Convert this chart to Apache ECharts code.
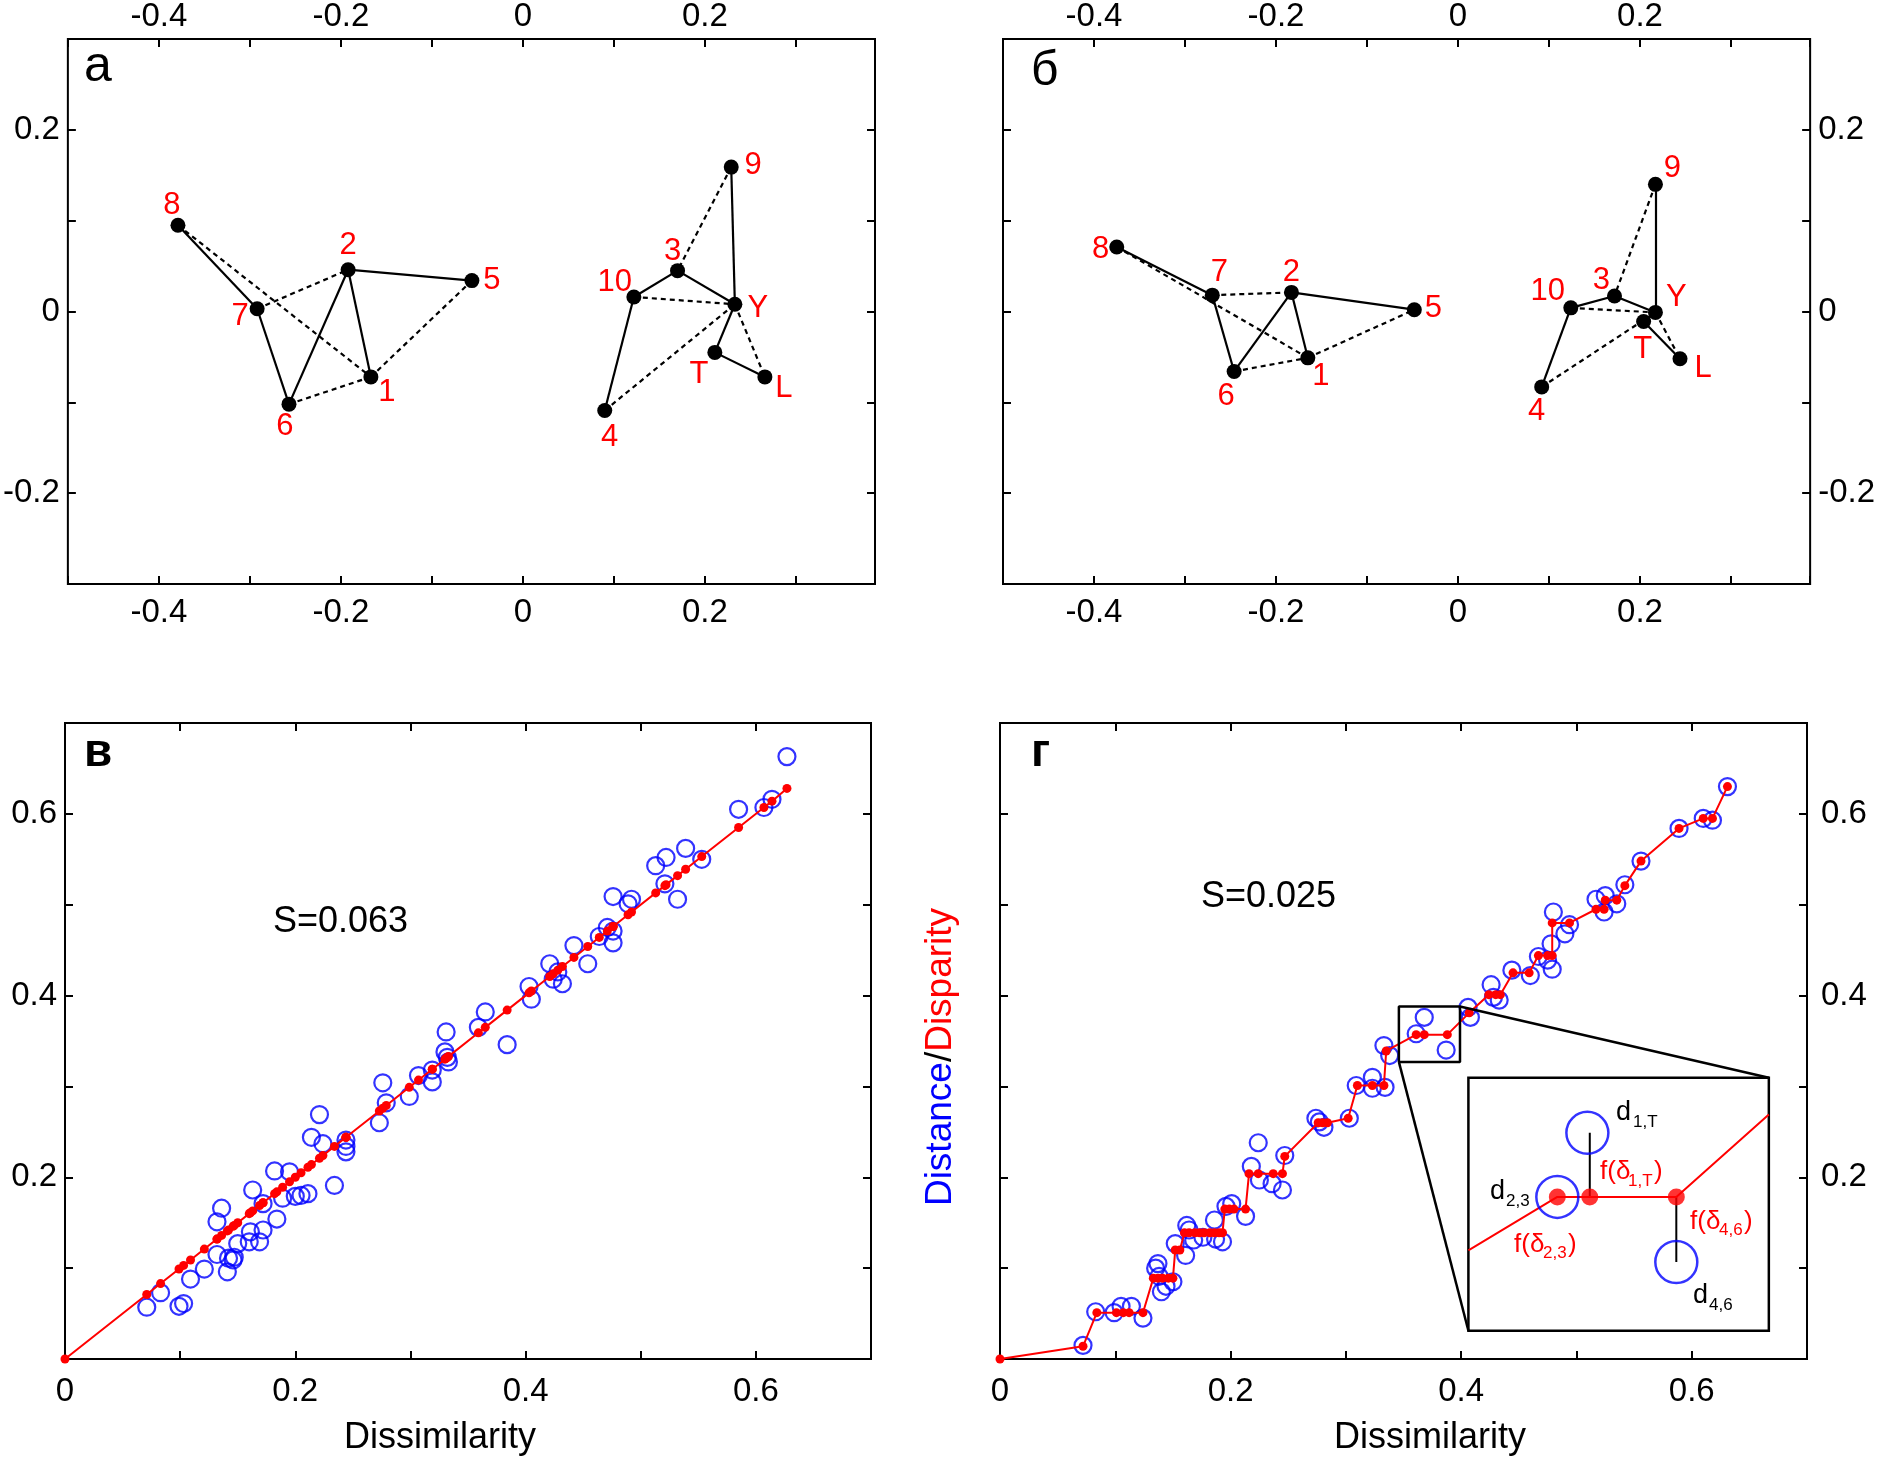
<!DOCTYPE html>
<html>
<head>
<meta charset="utf-8">
<script src="https://cdn.jsdelivr.net/npm/echarts@6/dist/echarts.min.js"></script>
<style>
  html, body { margin: 0; padding: 0; background: #fff; }
  #chart { width: 1878px; height: 1460px; }
</style>
</head>
<body>
<div id="chart"></div>
<script>
// ---------- data ----------
// MDS configurations (panels a and б), objects 1..10, Y, T, L
const nodeNames = ["1", "2", "3", "4", "5", "6", "7", "8", "9", "10", "Y", "T", "L"];
const xA = [-0.167, -0.192, 0.170, 0.090, -0.056, -0.257, -0.292, -0.379, 0.229, 0.122, 0.233, 0.211, 0.266];
const yA = [-0.072, 0.046, 0.045, -0.109, 0.034, -0.102, 0.003, 0.095, 0.159, 0.016, 0.008, -0.045, -0.072];
const xB = [-0.165, -0.183, 0.172, 0.092, -0.048, -0.246, -0.270, -0.375, 0.217, 0.124, 0.217, 0.204, 0.244];
const yB = [-0.051, 0.021, 0.017, -0.083, 0.002, -0.066, 0.018, 0.071, 0.140, 0.004, -0.001, -0.011, -0.052];
const solidEdges = [["8", "7"], ["7", "6"], ["6", "2"], ["2", "1"], ["2", "5"], ["4", "10"], ["10", "3"], ["3", "Y"], ["9", "Y"], ["Y", "T"], ["T", "L"]];
const dashedEdges = [["8", "1"], ["7", "2"], ["6", "1"], ["1", "5"], ["9", "3"], ["10", "Y"], ["4", "Y"], ["Y", "L"]];

// Shepard diagram в (linear regression)
const dissimV = [0.071, 0.083, 0.099, 0.103, 0.109, 0.121, 0.132, 0.132, 0.136, 0.141, 0.142, 0.146, 0.147, 0.150, 0.160, 0.161, 0.163, 0.169, 0.172, 0.172, 0.182, 0.184, 0.189, 0.195, 0.200, 0.205, 0.211, 0.214, 0.221, 0.224, 0.234, 0.244, 0.244, 0.244,
  0.273, 0.276, 0.279, 0.299, 0.307, 0.319, 0.319, 0.330, 0.331, 0.332, 0.333, 0.359, 0.365, 0.384, 0.403, 0.405, 0.421, 0.424, 0.428, 0.432, 0.442, 0.454,
  0.464, 0.471, 0.476, 0.476, 0.476, 0.489, 0.492, 0.513, 0.521, 0.522, 0.532, 0.539, 0.553, 0.585, 0.607, 0.614, 0.627];
const distV = [0.057, 0.073, 0.058, 0.061, 0.088, 0.099, 0.115, 0.151, 0.166, 0.096, 0.111, 0.109, 0.112, 0.127, 0.129, 0.140, 0.186, 0.129, 0.142, 0.171, 0.207, 0.154, 0.177, 0.206, 0.179, 0.180, 0.182, 0.244, 0.269, 0.237, 0.191, 0.241, 0.234, 0.228,
  0.260, 0.304, 0.282, 0.289, 0.312, 0.318, 0.305, 0.338, 0.360, 0.332, 0.327, 0.365, 0.382, 0.346, 0.410, 0.396, 0.435, 0.418, 0.426, 0.413, 0.455, 0.435,
  0.465, 0.475, 0.471, 0.458, 0.509, 0.501, 0.506, 0.543, 0.523, 0.552, 0.506, 0.562, 0.550, 0.605, 0.607, 0.616, 0.663];
const dispV = [0.071, 0.083, 0.099, 0.103, 0.109, 0.121, 0.132, 0.132, 0.136, 0.141, 0.142, 0.146, 0.147, 0.150, 0.160, 0.161, 0.163, 0.169, 0.172, 0.172, 0.182, 0.184, 0.189, 0.195, 0.200, 0.205, 0.211, 0.214, 0.221, 0.224, 0.234, 0.244, 0.244, 0.244,
  0.273, 0.276, 0.279, 0.299, 0.307, 0.319, 0.319, 0.330, 0.331, 0.332, 0.333, 0.359, 0.365, 0.384, 0.403, 0.405, 0.421, 0.424, 0.428, 0.432, 0.442, 0.454,
  0.464, 0.471, 0.476, 0.476, 0.476, 0.489, 0.492, 0.513, 0.521, 0.522, 0.532, 0.539, 0.553, 0.585, 0.607, 0.614, 0.628];

// Shepard diagram г (monotone regression)
const dissimG = [0.072, 0.083, 0.099, 0.105, 0.114, 0.124, 0.135, 0.137, 0.138, 0.140, 0.144, 0.150, 0.152, 0.161, 0.162, 0.164, 0.168, 0.176, 0.186, 0.187, 0.193, 0.196, 0.201, 0.213, 0.218, 0.224, 0.225, 0.236, 0.245, 0.247,
  0.274, 0.277, 0.281, 0.303, 0.309, 0.323, 0.323, 0.333, 0.334, 0.338, 0.361, 0.368, 0.387, 0.406, 0.408, 0.426, 0.428, 0.433, 0.444,
  0.460, 0.467, 0.475, 0.478, 0.479, 0.480, 0.490, 0.494, 0.517, 0.524, 0.525, 0.535, 0.542, 0.556, 0.589, 0.610, 0.618, 0.631];
const distG = [0.015, 0.052, 0.051, 0.058, 0.058, 0.045, 0.100, 0.105, 0.091, 0.074, 0.080, 0.085, 0.127, 0.114, 0.147, 0.142, 0.131, 0.134, 0.153, 0.132, 0.129, 0.168, 0.171, 0.157, 0.212, 0.238, 0.197, 0.193, 0.186, 0.224,
  0.265, 0.261, 0.255, 0.265, 0.301, 0.310, 0.298, 0.345, 0.299, 0.334, 0.358, 0.376, 0.340, 0.387, 0.376, 0.412, 0.398, 0.395, 0.428,
  0.422, 0.443, 0.439, 0.457, 0.429, 0.492, 0.468, 0.478, 0.506, 0.492, 0.510, 0.501, 0.522, 0.548, 0.584, 0.595, 0.593, 0.630];
const dissimGFit = [0, 0.072, 0.084, 0.101, 0.107, 0.112, 0.124, 0.133, 0.137, 0.141, 0.146, 0.150, 0.152, 0.156, 0.160, 0.164, 0.169, 0.173, 0.177, 0.182, 0.186, 0.190, 0.193, 0.195, 0.199, 0.203, 0.213, 0.216, 0.224, 0.237, 0.245, 0.247,
  0.276, 0.280, 0.284, 0.302, 0.310, 0.323, 0.333, 0.335, 0.361, 0.368, 0.388, 0.407, 0.424, 0.430, 0.434, 0.445, 0.459,
  0.467, 0.475, 0.479, 0.479, 0.494, 0.517, 0.524, 0.525, 0.535, 0.542, 0.556, 0.589, 0.610, 0.618, 0.631];
const dispG = [0, 0.014, 0.051, 0.051, 0.051, 0.051, 0.051, 0.089, 0.089, 0.089, 0.089, 0.089, 0.120, 0.120, 0.139, 0.139, 0.139, 0.139, 0.139, 0.139, 0.139, 0.139, 0.139, 0.165, 0.165, 0.165, 0.165, 0.204, 0.204, 0.204, 0.204, 0.223,
  0.260, 0.260, 0.260, 0.265, 0.301, 0.301, 0.301, 0.339, 0.357, 0.357, 0.357, 0.381, 0.401, 0.401, 0.401, 0.425, 0.425,
  0.444, 0.444, 0.444, 0.480, 0.480, 0.495, 0.495, 0.505, 0.505, 0.521, 0.548, 0.584, 0.595, 0.595, 0.630];

// schematic inset (unit coordinates inside the inset box)
const insetCurveX = [0, 0.296, 0.404, 0.692, 1.0];
const insetCurveY = [0.318, 0.529, 0.529, 0.529, 0.855];
const insetDispX = [0.296, 0.404, 0.692];
const insetDispY = [0.529, 0.529, 0.529];
const insetDistX = [0.296, 0.396, 0.692];
const insetDistY = [0.529, 0.782, 0.272];

// ---------- layout ----------
const FONT = "'Liberation Sans', Arial, sans-serif";
const RED = "#ff0000", BLUE = "#0000ff";
const G = [
  { left: 65, top: 38, width: 810, height: 546 },
  { left: 1003, top: 38, width: 810, height: 546 },
  { left: 65, top: 723, width: 806, height: 636 },
  { left: 1000, top: 723, width: 807, height: 636 }
];
const zoomBox = [0.346, 0.327, 0.399, 0.388];    // in г data units
const insetBox = [0.4063, 0.0311, 0.6669, 0.3096];
const gg = G[3];
const insetGrid = {
  left: gg.left + insetBox[0] / 0.7 * gg.width,
  top: gg.top + gg.height - insetBox[3] / 0.7 * gg.height,
  width: (insetBox[2] - insetBox[0]) / 0.7 * gg.width,
  height: (insetBox[3] - insetBox[1]) / 0.7 * gg.height
};

const offA = {"1": [16, 16], "2": [0, -24], "3": [-5, -19], "4": [5, 27], "5": [20, 0], "6": [-4, 22], "7": [-17, 8], "8": [-6, -20], "9": [22, -2], "10": [-19, -15], "Y": [23, 4], "T": [-16, 22], "L": [19, 12]};
const offB = {"1": [13, 19], "2": [0, -20], "3": [-13, -16], "4": [-5, 25], "5": [19, -1], "6": [-8, 25], "7": [7, -23], "8": [-16, 2], "9": [17, -16], "10": [-23, -16], "Y": [21, -15], "T": [-1, 28], "L": [23, 10]};

function lab(hideZero) {
  return function (v) {
    const k = v / 0.2;
    if (Math.abs(k - Math.round(k)) > 1e-6) return "";
    if (Math.abs(v) < 1e-9) return hideZero ? "" : "0";
    return String(Math.round(v * 10) / 10);
  };
}

function axis(gi, pos, min, max, showLabel, margin, hideZero) {
  return {
    type: "value", gridIndex: gi, position: pos, min: min, max: max, interval: 0.1,
    axisLine: { show: false, onZero: false }, splitLine: { show: false },
    axisTick: { show: true, inside: true, length: 8, lineStyle: { color: "#000", width: 2 } },
    axisLabel: { show: showLabel, margin: margin, color: "#000", fontSize: 33, fontFamily: FONT, formatter: lab(hideZero) }
  };
}

const xAxes = [
  axis(0, "bottom", -0.5, 0.387, true, 12),
  axis(0, "top", -0.5, 0.387, true, 6),
  axis(1, "bottom", -0.5, 0.387, true, 12),
  axis(1, "top", -0.5, 0.387, true, 6),
  axis(2, "bottom", 0, 0.7, true, 16),
  axis(2, "top", 0, 0.7, false, 8),
  axis(3, "bottom", 0, 0.7, true, 16),
  axis(3, "top", 0, 0.7, false, 8),
  { type: "value", gridIndex: 4, min: 0, max: 1, show: false }
];
const yAxes = [
  axis(0, "left", -0.3, 0.3, true, 8),
  axis(0, "right", -0.3, 0.3, false, 8),
  axis(1, "left", -0.3, 0.3, false, 8),
  axis(1, "right", -0.3, 0.3, true, 8),
  axis(2, "left", 0, 0.7, true, 8, true),
  axis(2, "right", 0, 0.7, false, 8),
  axis(3, "left", 0, 0.7, false, 8),
  axis(3, "right", 0, 0.7, true, 14, true),
  { type: "value", gridIndex: 4, min: 0, max: 1, show: false }
];

function zip(xs, ys) { return xs.map((x, i) => [x, ys[i]]); }

function configGraph(xs, ys, offs, xi) {
  return {
    type: "graph", coordinateSystem: "cartesian2d", xAxisIndex: xi, yAxisIndex: xi,
    layout: "none", symbol: "circle", symbolSize: 15, silent: true,
    itemStyle: { color: "#000" },
    label: { show: true, position: "inside", color: RED, fontSize: 31, fontFamily: FONT },
    data: nodeNames.map((n, i) => ({ name: n, value: [xs[i], ys[i]], label: { offset: offs[n] } })),
    links: solidEdges.map(e => ({ source: e[0], target: e[1], lineStyle: { type: "solid" } }))
      .concat(dashedEdges.map(e => ({ source: e[0], target: e[1], lineStyle: { type: [5, 4] } }))),
    lineStyle: { color: "#000", width: 2.2, opacity: 1, curveness: 0 },
    z: 3
  };
}

function circles(data, xi, size, bw) {
  return {
    type: "scatter", xAxisIndex: xi, yAxisIndex: xi, data: data, symbol: "circle", symbolSize: size, silent: true,
    itemStyle: { color: "rgba(0,0,0,0)", borderColor: BLUE, borderWidth: bw }, z: 3
  };
}
function redLine(data, xi, dot) {
  return {
    type: "line", xAxisIndex: xi, yAxisIndex: xi, data: data, symbol: "circle", symbolSize: dot, showSymbol: true, silent: true,
    lineStyle: { color: RED, width: 2 }, itemStyle: { color: RED }, z: 4
  };
}
function blackPath(data, xi, w) {
  return {
    type: "line", xAxisIndex: xi, yAxisIndex: xi, data: data, symbol: "none", silent: true,
    lineStyle: { color: "#000", width: w }, z: 5, clip: false
  };
}

const zb = zoomBox;
const series = [
  configGraph(xA, yA, offA, 0),
  configGraph(xB, yB, offB, 2),
  circles(zip(dissimV, distV), 4, 17, 2.2),
  redLine([[0, 0]].concat(zip(dissimV, dispV)), 4, 9),
  circles(zip(dissimG, distG), 6, 17, 2.2),
  redLine(zip(dissimGFit, dispG), 6, 9),
  blackPath([[zb[0], zb[1]], [zb[2], zb[1]], [zb[2], zb[3]], [zb[0], zb[3]], [zb[0], zb[1]]], 6, 2.5),
  blackPath([[zb[2], zb[3]], [insetBox[2], insetBox[3]]], 6, 2.5),
  blackPath([[zb[0], zb[1]], [insetBox[0], insetBox[1]]], 6, 2.5),
  // inset
  {
    type: "line", xAxisIndex: 8, yAxisIndex: 8, data: zip(insetCurveX, insetCurveY), symbol: "none", silent: true,
    lineStyle: { color: RED, width: 2 }, z: 6
  },
  blackPath([[insetDispX[1], insetDistY[1]], [insetDispX[1], insetDispY[1]]], 8, 2),
  blackPath([[insetDispX[2], insetDispY[2]], [insetDispX[2], insetDistY[2]]], 8, 2),
  Object.assign(circles(zip(insetDistX, insetDistY), 8, 42, 2.5), { z: 7 }),
  {
    type: "scatter", xAxisIndex: 8, yAxisIndex: 8, data: zip(insetDispX, insetDispY), symbol: "circle", symbolSize: 17, silent: true,
    itemStyle: { color: RED }, z: 8
  }
];

function txt(x, y, s, size, color, extra) {
  return {
    type: "text", x: x, y: y, silent: true, z: 100,
    style: Object.assign({ text: s, fontSize: size, fontFamily: FONT, fill: color, align: "left", verticalAlign: "middle" }, extra || {})
  };
}

const graphics = [
  txt(84, 67, "а", 50, "#000"),
  txt(1031, 72, "б", 48, "#000"),
  txt(84, 753, "в", 46, "#000", { fontWeight: "bold" }),
  txt(1031, 753, "г", 46, "#000", { fontWeight: "bold" }),
  txt(273, 922, "S=0.063", 36, "#000"),
  txt(1201, 897, "S=0.025", 36, "#000"),
  txt(440, 1438, "Dissimilarity", 36, "#000", { align: "center" }),
  txt(1430, 1438, "Dissimilarity", 36, "#000", { align: "center" }),
  {
    type: "text", x: 941, y: 1057, rotation: Math.PI / 2, silent: true, z: 100,
    style: {
      text: "{b|Distance}{k|/}{r|Disparity}", align: "center", verticalAlign: "middle",
      rich: {
        b: { fill: BLUE, fontSize: 37, fontFamily: FONT },
        k: { fill: "#000", fontSize: 37, fontFamily: FONT },
        r: { fill: RED, fontSize: 37, fontFamily: FONT }
      }
    }
  },
  // inset annotations
  txt(1616, 1113, "d", 27, "#000"),
  txt(1633, 1122, "1,T", 17, "#000"),
  txt(1600, 1172, "f(δ", 26, RED),
  txt(1628, 1181, "1,T", 17, RED),
  txt(1654, 1172, ")", 26, RED),
  txt(1490, 1192, "d", 27, "#000"),
  txt(1506, 1201, "2,3", 17, "#000"),
  txt(1514, 1245, "f(δ", 26, RED),
  txt(1543, 1253, "2,3", 17, RED),
  txt(1568, 1245, ")", 26, RED),
  txt(1690, 1222, "f(δ", 26, RED),
  txt(1719, 1230, "4,6", 17, RED),
  txt(1744, 1222, ")", 26, RED),
  txt(1693, 1296, "d", 27, "#000"),
  txt(1709, 1305, "4,6", 17, "#000")
];

const grids = G.map(g => Object.assign({ show: true, borderColor: "#000", borderWidth: 2, backgroundColor: "#fff" }, g));
grids.push(Object.assign({ show: true, borderColor: "#000", borderWidth: 2.5, backgroundColor: "#fff" }, insetGrid));

const chart = echarts.init(document.getElementById("chart"), null, { renderer: "canvas" });
chart.setOption({
  animation: false,
  backgroundColor: "#fff",
  textStyle: { fontFamily: FONT },
  grid: grids,
  xAxis: xAxes,
  yAxis: yAxes,
  series: series,
  graphic: graphics
});
</script>
</body>
</html>
